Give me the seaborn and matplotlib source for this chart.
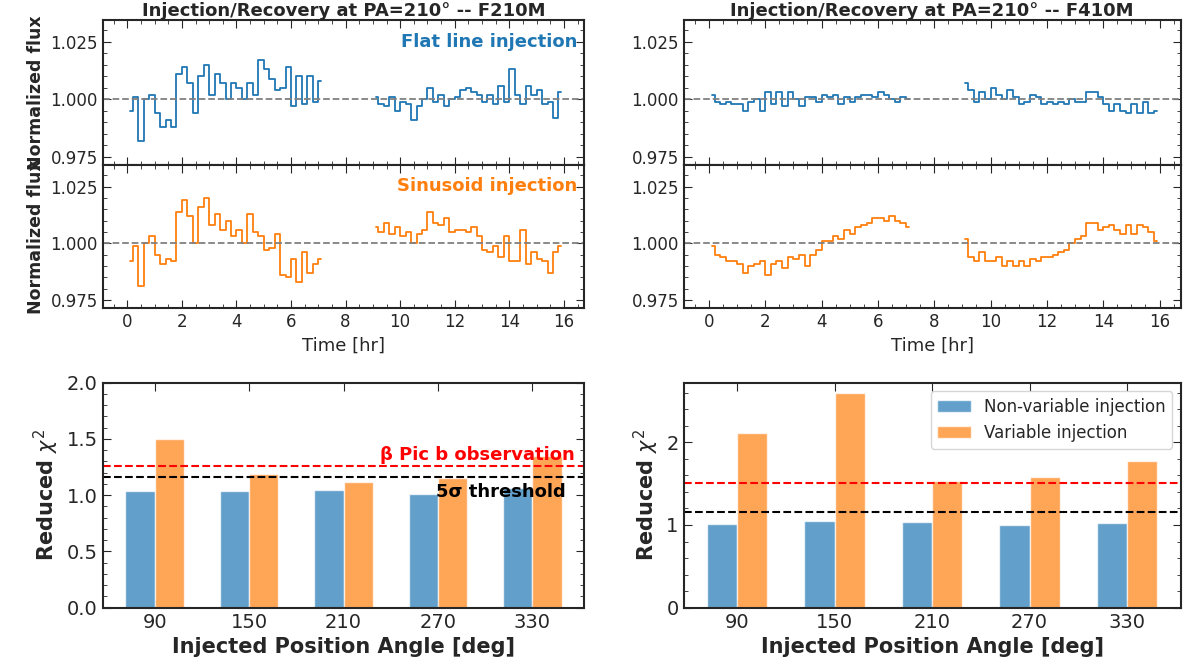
import numpy as np
import pandas as pd
import matplotlib
matplotlib.use("Agg")
import matplotlib.pyplot as plt
import seaborn as sns

sns.set_style("ticks")
plt.rcParams['font.family'] = ['DejaVu Sans']

t1 = np.round(np.arange(0.1, 7.2, 0.2), 2)[:36]
t2 = np.round(np.arange(9.1, 16.1, 0.2), 2)[:35]

# deviations from 1 in units of 1e-3
L_flat1 = [-5, 1, -18, 0, 2, -6, -12, -9, -12, 11, 14, 7, -6, 10, 15, 2, 11, 7, 0, 7, 5, 0, 7, 2, 17, 13, 9, 4, 5, 14, -3, 10, -2, 10, -1, 8]
L_flat2 = [1, -2, -3, 1, -5, -1, -2, -9, -3, 0, 5, -1, 2, -3, 0, 1, 4, 5, 3, 2, -1, 2, -2, 6, -1, 13, 2, -2, 6, 2, 4, -2, -1, -8, 3]
L_sin1 = [-8, -1, -19, 0, 3, -5, -9, -7, -8, 14, 19, 12, 0, 16, 20, 8, 13, 6, 10, 3, 6, 0, 13, 5, 3, -3, -2, 4, -14, -15, -7, -17, -4, -13, -9, -7]
L_sin2 = [7, 5, 9, 4, 7, 3, 5, 0, 4, 6, 14, 9, 8, 11, 5, 6, 6, 5, 7, 3, -3, -4, -1, -6, 3, -8, -8, 6, -9, -4, -7, -8, -13, -4, -1]
R_flat1 = [2, -1, -2, -1, -2, -2, -5, -1, 0, -5, 3, -2, 3, -3, 3, 0, -3, 1, 1, -1, 2, 1, 2, -2, 1, -1, 1, 2, 2, 1, 3, 2, 0, -1, 1, 0]
R_flat2 = [7, 4, -1, 3, 0, 5, 2, 0, 4, 1, -2, -1, 2, 1, -2, -1, -2, -1, -2, 0, -1, -1, 3, 3, 1, -2, -5, -2, -5, -6, -2, -6, -1, -6, -5]
R_sin1 = [-1, -5, -6, -8, -8, -9, -13, -10, -9, -8, -14, -9, -8, -11, -6, -7, -5, -10, -5, -3, 1, 1, 3, 2, 6, 4, 7, 8, 9, 11, 11, 10, 12, 10, 9, 7]
R_sin2 = [2, -6, -8, -4, -8, -8, -6, -10, -8, -10, -8, -10, -7, -8, -6, -6, -5, -4, -3, 0, 2, 3, 9, 9, 6, 7, 8, 6, 4, 8, 4, 8, 7, 5, 1]

angles = ["90", "150", "210", "270", "330"]
L_nonvar = [1.04, 1.04, 1.05, 1.01, 1.06]
L_var = [1.50, 1.19, 1.12, 1.15, 1.35]
R_nonvar = [1.01, 1.05, 1.04, 1.00, 1.02]
R_var = [2.11, 2.60, 1.53, 1.58, 1.77]
L_obs, R_obs, thresh = 1.26, 1.51, 1.16

BLUE, ORANGE = "#1f77b4", "#ff7f0e"
fig = plt.figure(figsize=(11.95, 6.62), dpi=100)

def style(ax):
    ax.minorticks_on()
    ax.tick_params(which="both", direction="in", top=True, right=True, labelsize=12)
    ax.tick_params(which="major", length=6)
    ax.tick_params(which="minor", length=3)
    for s in ax.spines.values():
        s.set_linewidth(1.5)

def ts(ax, d1, d2, color):
    for t, d in ((t1, d1), (t2, d2)):
        sns.lineplot(x=t, y=1 + np.array(d) / 1000.0, ax=ax, color=color,
                     drawstyle="steps-mid", lw=1.3)
    ax.axhline(1.0, color="gray", ls="--", lw=1.3)
    ax.set_xlim(-0.9, 16.75)
    ax.set_ylim(0.9715, 1.0346)
    ax.set_yticks([0.975, 1.0, 1.025])
    style(ax)

for col, (x0, w, title, f1, f2, s1, s2) in enumerate([
        (0.086, 0.403, "Injection/Recovery at PA=210° -- F210M", L_flat1, L_flat2, L_sin1, L_sin2),
        (0.572, 0.416, "Injection/Recovery at PA=210° -- F410M", R_flat1, R_flat2, R_sin1, R_sin2)]):
    a1 = fig.add_axes([x0, 0.751, w, 0.219])
    a2 = fig.add_axes([x0, 0.535, w, 0.216], sharex=a1)
    ts(a1, f1, f2, BLUE)
    ts(a2, s1, s2, ORANGE)
    a1.tick_params(labelbottom=False)
    a1.set_title(title, fontsize=13, fontweight="bold", pad=3)
    a2.set_xlabel("Time [hr]", fontsize=13)
    if col == 0:
        a1.set_ylabel("Normalized flux", fontsize=12.5, fontweight="bold")
        a2.set_ylabel("Normalized flux", fontsize=12.5, fontweight="bold")
        a1.text(0.985, 0.85, "Flat line injection", transform=a1.transAxes, ha="right", va="center",
                color=BLUE, fontsize=13, fontweight="bold")
        a2.text(0.985, 0.85, "Sinusoid injection", transform=a2.transAxes, ha="right", va="center",
                color=ORANGE, fontsize=13, fontweight="bold")

def bars(ax, nonvar, var, obs, ylim, legend):
    df = pd.DataFrame({"angle": angles * 2, "chi": nonvar + var,
                       "kind": ["Non-variable injection"] * 5 + ["Variable injection"] * 5})
    sns.barplot(data=df, x="angle", y="chi", hue="kind", palette=[BLUE, ORANGE], alpha=0.7,
                width=0.62, ax=ax, legend=legend, saturation=1)
    ax.axhline(obs, color="red", ls="--", lw=1.5)
    ax.axhline(thresh, color="black", ls="--", lw=1.5)
    ax.set_xlim(-0.55, 4.55)
    ax.set_ylim(*ylim)
    ax.set_xlabel("Injected Position Angle [deg]", fontsize=15, fontweight="bold")
    ax.set_ylabel(r"Reduced $\chi^2$", fontsize=15, fontweight="bold")
    style(ax)
    ax.tick_params(axis="x", which="minor", bottom=False, top=False)
    ax.tick_params(labelsize=14)

b1 = fig.add_axes([0.086, 0.082, 0.403, 0.34])
bars(b1, L_nonvar, L_var, L_obs, (0, 2.0), False)
b1.set_yticks([0, 0.5, 1.0, 1.5, 2.0])
b1.text(4.45, L_obs + 0.02, "β Pic b observation", color="red", fontsize=13, fontweight="bold",
        ha="right", va="bottom")
b1.text(4.35, thresh - 0.05, "5σ threshold", color="black", fontsize=13, fontweight="bold",
        ha="right", va="top")

b2 = fig.add_axes([0.572, 0.082, 0.416, 0.34])
bars(b2, R_nonvar, R_var, R_obs, (0, 2.72), True)
b2.set_yticks([0, 1, 2])
b2.legend(loc="upper right", fontsize=12, frameon=True)

fig.savefig("out.png", dpi=100)
